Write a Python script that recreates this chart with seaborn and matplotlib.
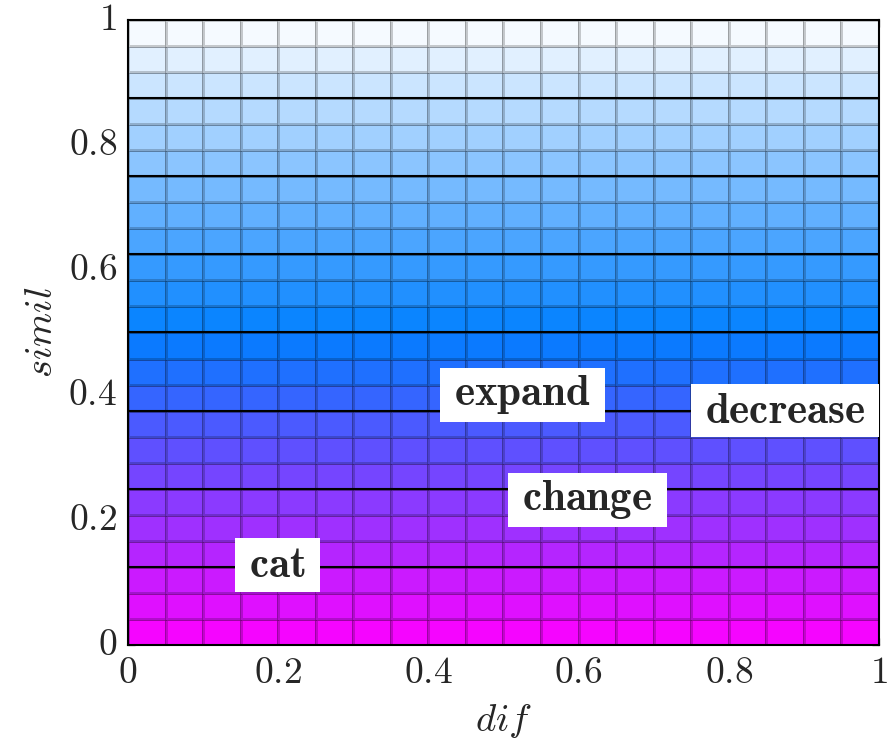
import numpy as np
import pandas as pd
import matplotlib.pyplot as plt
import seaborn as sns
from matplotlib.colors import LinearSegmentedColormap
from matplotlib.path import Path

sns.set_style('white')
plt.rcParams['mathtext.fontset'] = 'cm'
plt.rcParams['font.family'] = ['DejaVu Serif']

# mesh: 20 columns along dif, 24 rows along simil (surface value = simil)
dif_cols = 20
simil_rows = [0.021, 0.063, 0.104, 0.146, 0.188, 0.229, 0.271, 0.313,
              0.354, 0.396, 0.438, 0.479, 0.521, 0.563, 0.604, 0.646,
              0.688, 0.729, 0.771, 0.813, 0.854, 0.896, 0.938, 0.979]
contour_levels = [0.125, 0.25, 0.375, 0.5, 0.625, 0.75, 0.875]

words = ['expand', 'decrease', 'change', 'cat']
word_dif = [0.525, 0.875, 0.612, 0.199]
word_simil = [0.40, 0.375, 0.232, 0.128]

tick_vals = [0, 0.2, 0.4, 0.6, 0.8, 1]
tick_labels = ['$0$', '$0.2$', '$0.4$', '$0.6$', '$0.8$', '$1$']

cmap = LinearSegmentedColormap.from_list('pm', [(1, 0, 1), (0, 0.5, 1), (1, 1, 1)])


def label_box(x0, y0, width, height, mutation_size):
    # node box: wider padding left/right than top/bottom
    px, py = 0.33 * mutation_size, 0.13 * mutation_size
    verts = [(x0 - px, y0 - py), (x0 + width + px, y0 - py),
             (x0 + width + px, y0 + height + py), (x0 - px, y0 + height + py),
             (x0 - px, y0 - py)]
    return Path(verts, closed=True)


grid = pd.DataFrame(np.tile(np.array(simil_rows)[:, None], (1, dif_cols)))
n_rows, n_cols = grid.shape

fig = plt.figure(figsize=(8.88, 7.43), dpi=100)
ax = fig.add_axes([0.1441, 0.1319, 0.8458, 0.8412])

sns.heatmap(grid, ax=ax, cmap=cmap, vmin=0, vmax=1, cbar=False,
            linewidths=0.8, linecolor=(0, 0, 0, 0.2))
ax.set_ylim(0, n_rows)
ax.set_xlim(0, n_cols)

# contour lines of the surface
ax.hlines([lv * n_rows for lv in contour_levels], 0, n_cols, colors='black', lw=1.5)

# word labels, white boxes
for w, x, y in zip(words, word_dif, word_simil):
    ax.text(x * n_cols, y * n_rows, r'$\mathbf{' + w + '}$', fontsize=31,
            ha='center', va='center', zorder=5, clip_on=False,
            bbox=dict(boxstyle=label_box, fc='white', ec='none'))

ax.set_xticks([t * n_cols for t in tick_vals])
ax.set_xticklabels(tick_labels, rotation=0)
ax.set_yticks([t * n_rows for t in tick_vals])
ax.set_yticklabels(tick_labels, rotation=0)
ax.tick_params(axis='both', direction='in', length=5, width=1, color='gray',
               labelsize=27, top=True, right=True, bottom=True, left=True)
ax.tick_params(axis='x', pad=7)
ax.tick_params(axis='y', pad=8)

for s in ax.spines.values():
    s.set_visible(True)
    s.set_color('black')
    s.set_linewidth(1.5)

ax.set_xlabel('$dif$', fontsize=28, labelpad=8)
ax.set_ylabel('$simil$', fontsize=28, labelpad=6)

fig.savefig('out.png', dpi=100)
